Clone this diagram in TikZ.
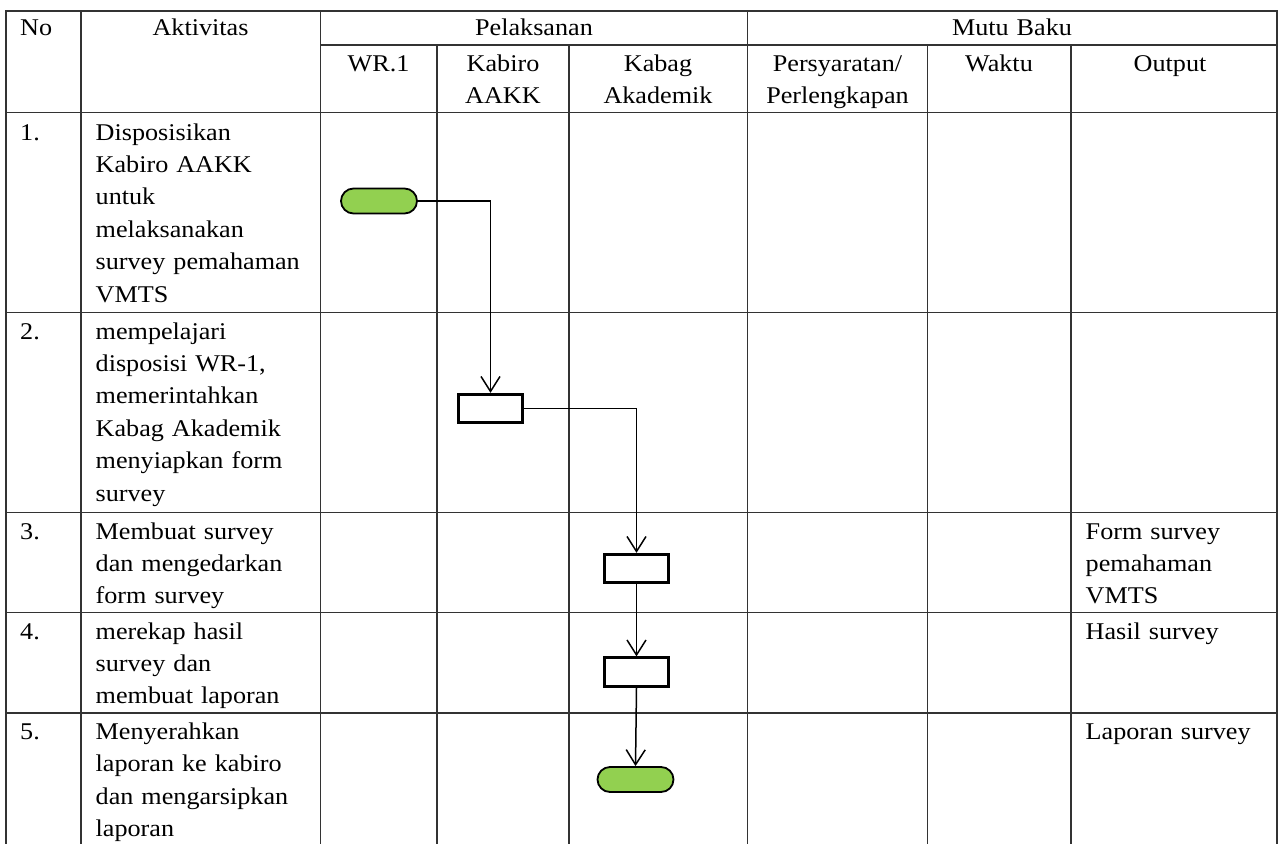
\documentclass[tikz,border=0pt]{standalone}
\usepackage{fontspec}
\setmainfont{Liberation Serif}[FakeStretch=1.09]
\usepackage{tikz}
\usetikzlibrary{arrows.meta,positioning}
\usepackage{xcolor}
\definecolor{fhijau}{HTML}{92D050}
\definecolor{fgaris}{HTML}{333333}
\newcommand{\isi}{\fontsize{24}{32.4}\selectfont}

\begin{document}
\begin{tikzpicture}[x=1pt, y=-1pt, font=\isi,
  garis/.style={fgaris, line width=1.6pt, line cap=rect},
  sel/.style={inner sep=0pt, text width=#1, align=left, anchor=base west},
  sel/.default=215pt,
  kepala/.style={inner sep=0pt, text width=#1, align=center, anchor=base},
  kepala/.default=175pt,
  terminal/.style={draw, line width=1.8pt, fill=fhijau, rounded corners=12.5pt,
    minimum width=76pt, minimum height=25pt},
  proses/.style={draw, line width=2.8pt, minimum width=64pt, minimum height=28.5pt},
  alur/.style={line width=1.5pt, -{Straight Barb[length=15pt, width=19pt, line width=1.5pt]}}]
\useasboundingbox (0,0) rectangle (1281,843);
% ---------------- table grid ----------------
\draw[garis] (6,11) -- (1277,11);
\draw[garis] (320.5,45) -- (1277,45);
\foreach \y in {112.5,312.5,512.5,612.5,713}{\draw[garis] (6,\y) -- (1277,\y);}
\foreach \x in {6,81,320.5,747.5,1277}{\draw[garis] (\x,11) -- (\x,843);}
\foreach \x in {437,569,927.5,1071}{\draw[garis] (\x,45) -- (\x,843);}
% ---------------- header ----------------
\node[sel=60pt] (hno) at (20,36) {No};
\node[kepala] (hakt) at (200.5,36) {Aktivitas};
\node[kepala] (hpel) at (534,36) {Pelaksanan};
\node[kepala] (hmutu) at (1012,36) {Mutu Baku};
\node[kepala=110pt] (hwr) at (378.5,71) {WR.1};
\node[kepala=125pt] (hkabiro) at (503,71) {Kabiro\\AAKK};
\node[kepala=170pt] (hkabag) at (658,71) {Kabag\\Akademik};
\node[kepala=175pt] (hsyarat) at (837.5,71) {Persyaratan/\\Perlengkapan};
\node[kepala=135pt] (hwaktu) at (999,71) {Waktu};
\node[kepala=195pt] (houtput) at (1170,71) {Output};
% ---------------- rows ----------------
\node[sel=55pt] (no1) at (20,140) {1.};
\node[sel] (akt1) at (95.5,140) {Disposisikan\\Kabiro AAKK\\untuk\\melaksanakan\\survey pemahaman\\VMTS};
\node[sel=55pt] (no2) at (20,339) {2.};
\node[sel] (akt2) at (95.5,339) {mempelajari\\disposisi WR-1,\\memerintahkan\\Kabag Akademik\\menyiapkan form\\survey};
\node[sel=55pt] (no3) at (20,539) {3.};
\node[sel] (akt3) at (95.5,539) {Membuat survey\\dan mengedarkan\\form survey};
\node[sel=185pt] (out3) at (1085.5,539) {Form survey\\pemahaman\\VMTS};
\node[sel=55pt] (no4) at (20,639) {4.};
\node[sel] (akt4) at (95.5,639) {merekap hasil\\survey dan\\membuat laporan};
\node[sel=185pt] (out4) at (1085.5,639) {Hasil survey};
\node[sel=55pt] (no5) at (20,739.5) {5.};
\node[sel] (akt5) at (95.5,739.5) {Menyerahkan\\laporan ke kabiro\\dan mengarsipkan\\laporan};
\node[sel=185pt] (out5) at (1085.5,739.5) {Laporan survey};
% ---------------- flow ----------------
\node[terminal] (mulai) at (379,201) {};
\node[proses] (telaah) at (490.5,408.5) {};
\node[proses] (buatform) at (636.5,568.5) {};
\node[proses] (rekap) at (636.5,672) {};
\node[terminal] (selesai) at (635.5,779.5) {};
\draw[alur] (mulai.east) -| (telaah.north);
\draw[alur] (telaah.east) -| (buatform.north);
\draw[alur] (buatform.south) -- (rekap.north);
\draw[alur] (rekap.south) -- (selesai.north);
\end{tikzpicture}
\end{document}
